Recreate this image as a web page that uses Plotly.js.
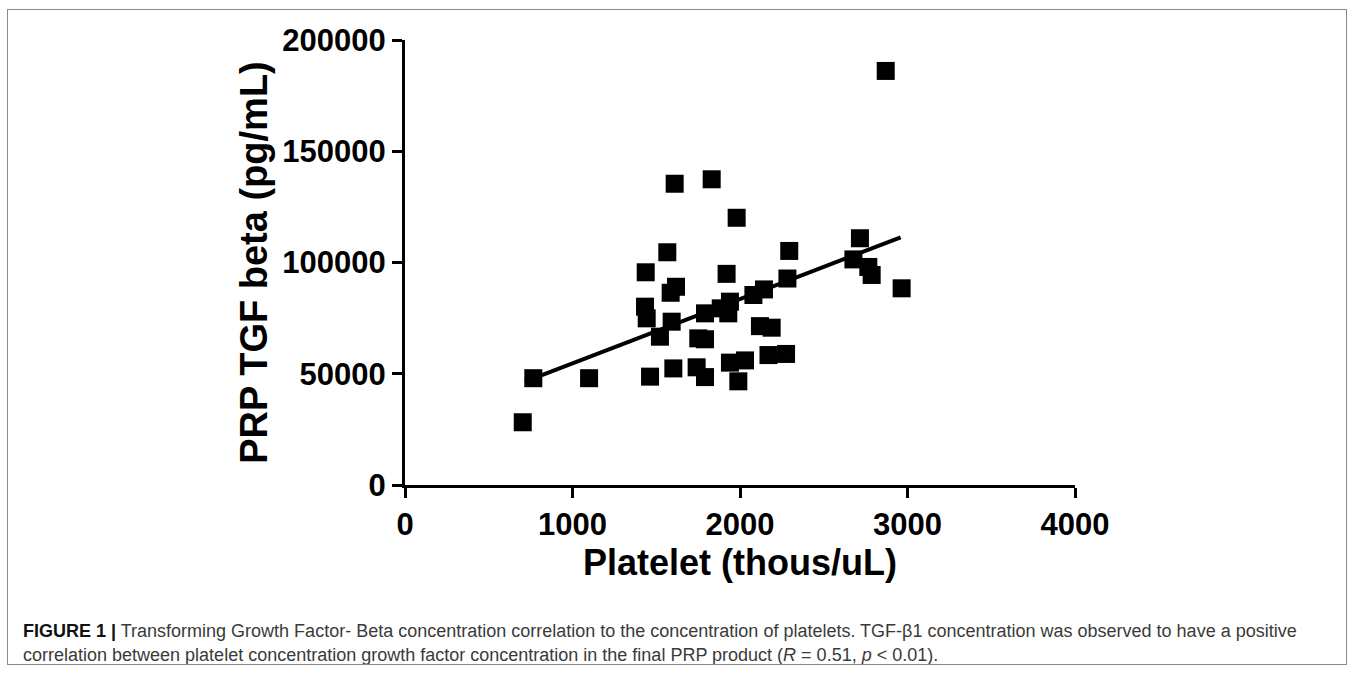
<!DOCTYPE html>
<html>
<head>
<meta charset="utf-8">
<script src="https://cdn.plot.ly/plotly-3.0.1.min.js"></script>
<style>
  html, body { margin: 0; padding: 0; background: #ffffff; }
  #wrap { position: relative; width: 1357px; height: 681px; }
  #chart { position: absolute; left: 0; top: 0; width: 1357px; height: 681px; }
  #frame { position: absolute; left: 7px; top: 9px; width: 1340px; height: 656px;
           border: 1.5px solid #8a8a8a; box-sizing: border-box; pointer-events: none; }
</style>
</head>
<body>
<div id="wrap">
  <div id="chart"></div>
  <div id="frame"></div>
</div>
<script>
// Platelet concentration (thous/uL)
const plateletX = [703, 766, 1099, 1437, 1433, 1443, 1463, 1522, 1566, 1586,
                   1618, 1592, 1602, 1610, 1741, 1751, 1791, 1791, 1791, 1831,
                   1885, 1920, 1930, 1940, 1940, 1980, 1990, 2030, 2080, 2143,
                   2119, 2170, 2189, 2275, 2283, 2294, 2677, 2716, 2766, 2786,
                   2870, 2965];
// PRP TGF beta (pg/mL)
const tgfBetaY = [28200, 48000, 48000, 95600, 80150, 74900, 48700, 66650, 104600, 86400,
                  89100, 73400, 52400, 135400, 52900, 65900, 65500, 77150, 48500, 137400,
                  79400, 94900, 77150, 82400, 55000, 120100, 46600, 56000, 85400, 87900,
                  71400, 58400, 70700, 58900, 92800, 105200, 101400, 110900, 98000, 94400,
                  186100, 88400];
// Regression line end points
const fitX = [716, 2959];
const fitY = [46430, 111330];

const xTickVals = [0, 1000, 2000, 3000, 4000];
const yTickVals = [0, 50000, 100000, 150000, 200000];

const captionLine1 = '<b style="color:#111">FIGURE 1 |</b> Transforming Growth Factor- Beta concentration correlation to the concentration of platelets. TGF-β1 concentration was observed to have a positive';
const captionLine2 = 'correlation between platelet concentration growth factor concentration in the final PRP product (<i>R</i> = 0.51, <i>p</i> &lt; 0.01).';

const traces = [
  {
    x: plateletX, y: tgfBetaY, type: 'scatter', mode: 'markers',
    marker: { symbol: 'square', size: 18, color: '#000000', line: { width: 0 } },
    cliponaxis: false, showlegend: false, hoverinfo: 'x+y'
  },
  {
    x: fitX, y: fitY, type: 'scatter', mode: 'lines',
    line: { color: '#000000', width: 4 },
    cliponaxis: false, showlegend: false, hoverinfo: 'skip'
  }
];

const axisFont = { family: 'Liberation Sans, Arial, sans-serif', size: 31, color: '#000000', weight: 'bold' };

const layout = {
  width: 1357, height: 681,
  margin: { l: 405, r: 282, t: 40, b: 196 },
  paper_bgcolor: '#ffffff', plot_bgcolor: '#ffffff',
  showlegend: false,
  xaxis: {
    range: [0, 4000], tickvals: xTickVals, ticktext: xTickVals.map(String),
    showgrid: false, zeroline: false,
    showline: true, linecolor: '#000000', linewidth: 3,
    ticks: 'outside', ticklen: 10, tickwidth: 3, tickcolor: '#000000',
    tickfont: axisFont,
    title: { text: '<b>Platelet (thous/uL)</b>', standoff: 8,
             font: { family: 'Liberation Sans, Arial, sans-serif', size: 36, color: '#000000' } },
    fixedrange: true
  },
  yaxis: {
    range: [0, 200000], tickvals: yTickVals, ticktext: yTickVals.map(String),
    showgrid: false, zeroline: false,
    showline: true, linecolor: '#000000', linewidth: 3,
    ticks: 'outside', ticklen: 10, tickwidth: 3, tickcolor: '#000000',
    tickfont: axisFont,
    title: { text: '<b>PRP TGF beta (pg/mL)</b>', standoff: 4,
             font: { family: 'Liberation Sans, Arial, sans-serif', size: 38, color: '#000000' } },
    fixedrange: true
  },
  annotations: [
    { xref: 'paper', yref: 'paper', x: (21 - 405) / 670, y: (485 - 631) / 445,
      xanchor: 'left', yanchor: 'middle', showarrow: false, align: 'left',
      text: captionLine1,
      font: { family: 'Liberation Sans, Arial, sans-serif', size: 18, color: '#3a3a3a' } },
    { xref: 'paper', yref: 'paper', x: (21 - 405) / 670, y: (485 - 655) / 445,
      xanchor: 'left', yanchor: 'middle', showarrow: false, align: 'left',
      text: captionLine2,
      font: { family: 'Liberation Sans, Arial, sans-serif', size: 18, color: '#3a3a3a' } }
  ]
};

Plotly.newPlot('chart', traces, layout, { displayModeBar: false, staticPlot: true });
</script>
</body>
</html>
